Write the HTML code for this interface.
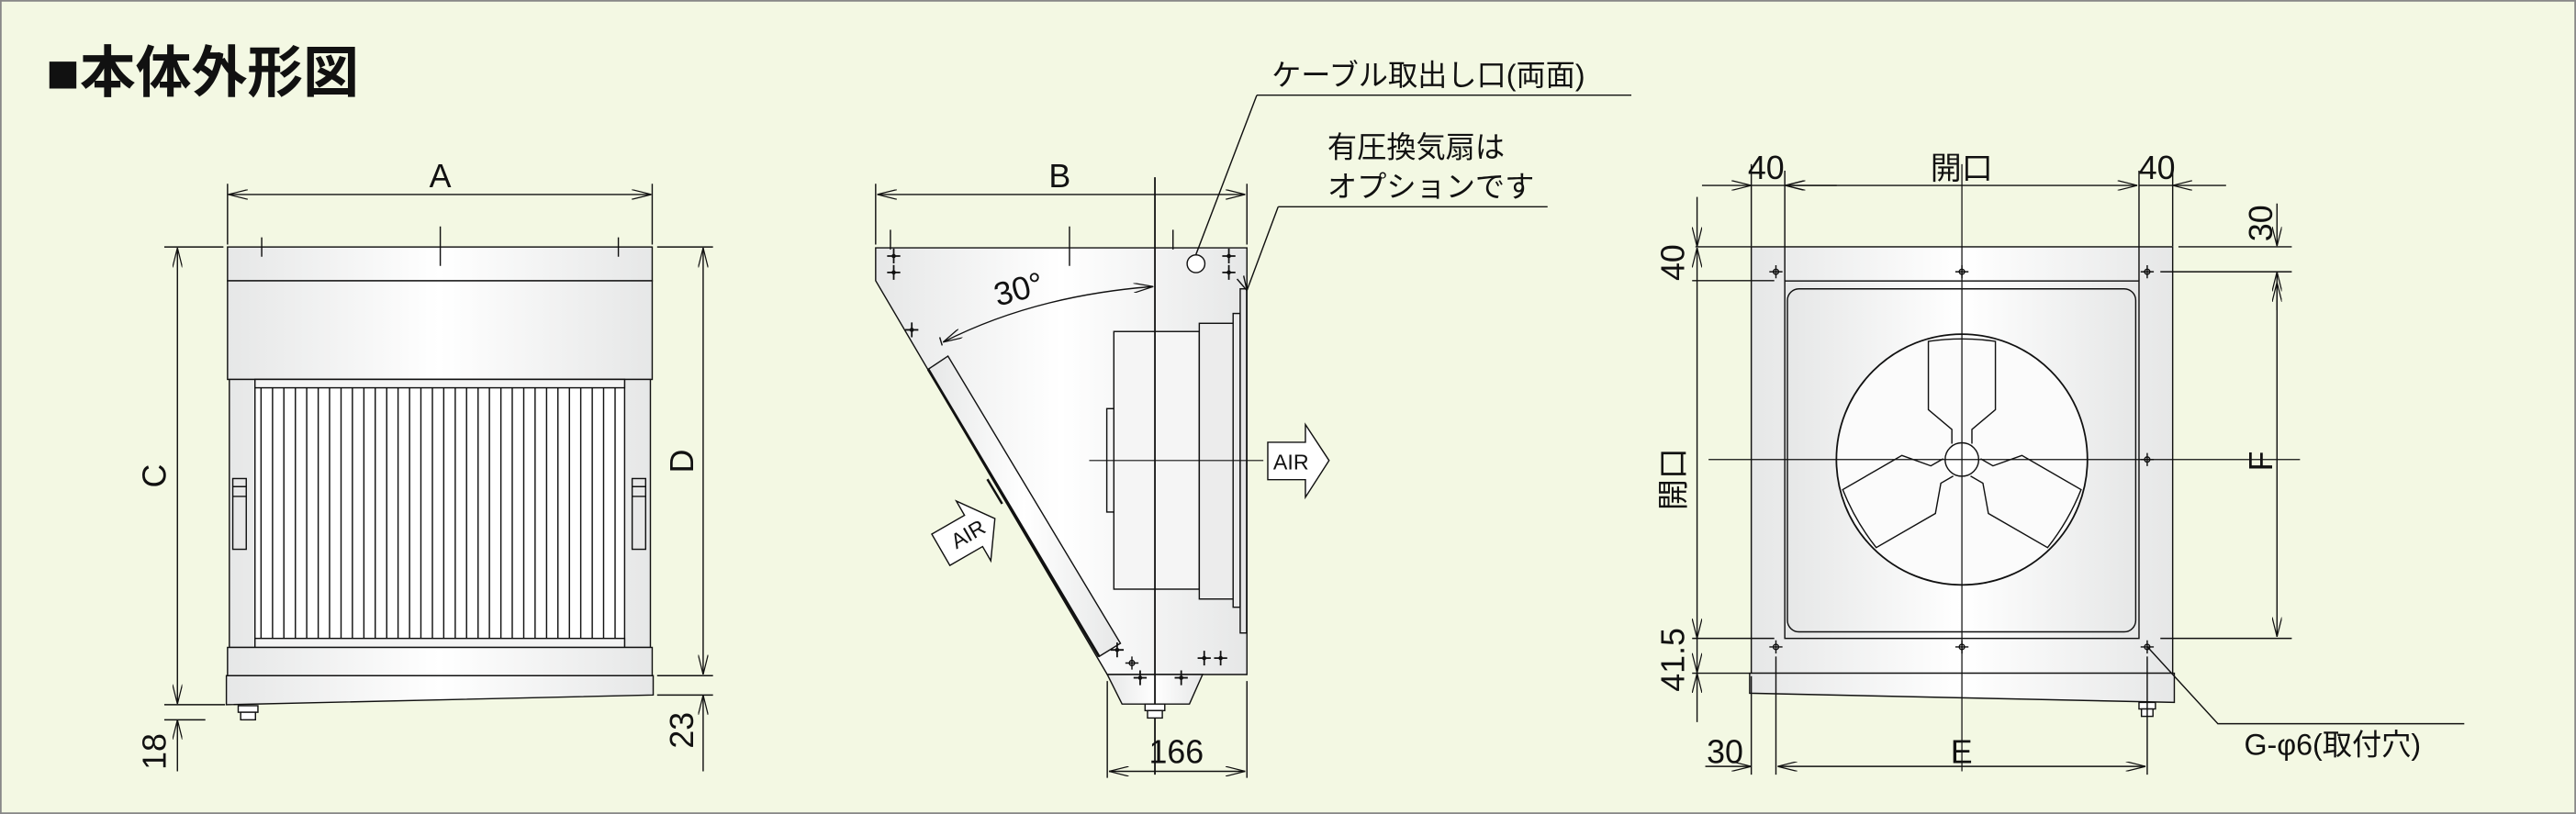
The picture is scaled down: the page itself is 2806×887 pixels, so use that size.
<!DOCTYPE html>
<html><head><meta charset="utf-8"><style>
html,body{margin:0;padding:0;background:#f3f8e3;}
svg{display:block}
text{font-family:"Liberation Sans Narrow","Liberation Sans","Noto Sans CJK JP",sans-serif;fill:#111}
.j{font-family:"Liberation Sans","Noto Sans CJK JP",sans-serif}
</style></head><body>
<svg width="2806" height="887" viewBox="0 0 1568 496" preserveAspectRatio="none" xmlns="http://www.w3.org/2000/svg">
<defs>
<linearGradient id="g" x1="0" x2="1" y1="0" y2="0">
<stop offset="0" stop-color="#e6e7e7"/><stop offset="0.5" stop-color="#ffffff"/><stop offset="1" stop-color="#e6e7e7"/></linearGradient>
<marker id="a" markerWidth="12" markerHeight="6" refX="12" refY="3" orient="auto" markerUnits="userSpaceOnUse">
<path d="M0,0 L12,3 L0,6" fill="none" stroke="#111" stroke-width="0.7"/></marker>
<marker id="b" markerWidth="12" markerHeight="6" refX="0" refY="3" orient="auto" markerUnits="userSpaceOnUse">
<path d="M12,0 L0,3 L12,6" fill="none" stroke="#111" stroke-width="0.7"/></marker>
<g id="h"><circle r="1.6" fill="none" stroke="#111" stroke-width="0.8"/><path d="M-4,0H4M0,-4V4" stroke="#111" stroke-width="0.8"/></g>
<g id="p"><circle r="1.3" fill="#111"/><path d="M-4,0H4M0,-4.5V4.5" stroke="#111" stroke-width="1"/></g>
</defs>
<rect x="0.5" y="0.5" width="1567" height="495" fill="#f3f8e3" stroke="#888" stroke-width="1"/>
<text x="28" y="56" class="j" font-size="34" font-weight="bold">■本体外形図</text>

<g stroke="#111" stroke-width="0.8" fill="none">
<!-- LEFT VIEW -->
<rect x="138.5" y="150.5" width="258.5" height="20.6" fill="url(#g)"/>
<rect x="138.5" y="171.1" width="258.5" height="60.1" fill="url(#g)"/>
<rect x="139.6" y="231.2" width="256.3" height="163.3" fill="url(#g)"/>
<rect x="155.2" y="231.2" width="225" height="163.3" fill="#fff"/>
<rect x="155.2" y="231.2" width="225" height="5.1" fill="#f4f4f4"/>
<rect x="155.2" y="389" width="225" height="5.5" fill="#f4f4f4"/>
<path d="M158.9,236.3V389M165.9,236.3V389M172.8,236.3V389M179.8,236.3V389M186.7,236.3V389M193.7,236.3V389M200.6,236.3V389M207.6,236.3V389M214.5,236.3V389M221.5,236.3V389M228.4,236.3V389M235.4,236.3V389M242.3,236.3V389M249.3,236.3V389M256.2,236.3V389M263.2,236.3V389M270.1,236.3V389M277.1,236.3V389M284,236.3V389M291,236.3V389M297.9,236.3V389M304.9,236.3V389M311.8,236.3V389M318.8,236.3V389M325.7,236.3V389M332.7,236.3V389M339.6,236.3V389M346.6,236.3V389M353.5,236.3V389M360.5,236.3V389M367.4,236.3V389M374.4,236.3V389"/>
<rect x="141.7" y="291.6" width="8.2" height="43.1" fill="#e8e8e8"/><path d="M141.7,296.5H149.9M141.7,302.5H149.9"/>
<rect x="384.8" y="291.6" width="8.2" height="43.1" fill="#e8e8e8"/><path d="M384.8,296.5H393M384.8,302.5H393"/>
<rect x="138.5" y="394.5" width="258.5" height="17.2" fill="url(#g)"/>
<path d="M137.8,411.7H397.6V423.5L137.8,429.4Z" fill="url(#g)"/>
<rect x="145" y="430" width="12" height="4" fill="#fff"/><rect x="146.5" y="434" width="9" height="4.6" fill="#fff"/>
<path d="M159.3,144.6V156.4M268,138V162M376.4,144.6V156.4" />
<path d="M138.5,112V149M397,112V149"/>
<path d="M139,118.5H396.5" marker-start="url(#b)" marker-end="url(#a)"/>
<path d="M100,150.5H136M100,429.4H137M100,438.6H125"/>
<path d="M108,151V429" marker-start="url(#b)" marker-end="url(#a)"/>
<path d="M108,470V438.6" marker-end="url(#a)"/>
<path d="M400,150.5H434M400,411.7H434M400,423.5H434"/>
<path d="M428,151V411" marker-start="url(#b)" marker-end="url(#a)"/>
<path d="M428,470V423.5" marker-end="url(#a)"/>

<!-- MIDDLE VIEW -->
<path d="M533,151H759V411H674L533,171Z" fill="url(#g)"/>
<path d="M674,411H732L724,429H683Z" fill="url(#g)"/>
<path d="M577,217L565,225L669,400L682,392Z" fill="url(#g)"/>
<path d="M565,225L669,400" stroke-width="1.6"/>
<path d="M601,292l3,5l6,10" stroke-width="1.4"/>
<rect x="678" y="202" width="52" height="157" fill="#f5f5f5"/>
<rect x="673.7" y="249" width="4.3" height="63" fill="#f5f5f5"/>
<rect x="730" y="197" width="20.6" height="168" fill="#ececec"/>
<rect x="750.6" y="191" width="4.3" height="179" fill="#eaeaea"/>
<rect x="754.9" y="176" width="3.9" height="209.7" fill="#e6e6e6"/>
<circle cx="728" cy="160.7" r="5.4" fill="#fff"/>
<path d="M703,108V472" stroke-width="1"/>
<path d="M663,280.6H769" stroke-width="0.6"/>
<path d="M574,208.5Q630,180 702,174.6" marker-start="url(#b)" marker-end="url(#a)"/>
<path d="M572,205.5l1.5,5"/>
<path d="M771.7,269.5H794.6V258.7L809,280.6L794.6,303V292.3H771.7Z" fill="#fff"/>
<g transform="translate(590,325) rotate(-30)"><path d="M-20,-11H3V-21L18,0L3,21V11H-20Z" fill="#fff"/></g>
<rect x="697" y="429" width="12" height="4" fill="#fff"/><rect x="698.5" y="433" width="9" height="4.5" fill="#fff"/>
<path d="M533,112V149M759,112V149M651,138V162M542,140V152M714,140V152"/>
<path d="M534,118.5H758" marker-start="url(#b)" marker-end="url(#a)"/>
<path d="M674,415V474M759,415V474"/>
<path d="M675,470H758" marker-start="url(#b)" marker-end="url(#a)"/>
<path d="M765,58H993M765,58L728,155" />
<path d="M778,126H942M778,126L759,177"/>
<path d="M753,170L759,177L757,168"/>

<!-- RIGHT VIEW -->
<rect x="1066" y="150.4" width="256.5" height="259.8" fill="url(#g)"/>
<path d="M1065,410.2H1323.5V428L1065,422.4Z" fill="url(#g)"/>
<rect x="1086.4" y="171.2" width="215.6" height="217.8" fill="url(#g)"/>
<rect x="1088" y="176" width="212" height="209" rx="7" fill="url(#g)"/>
<circle cx="1194.2" cy="280" r="76.4" fill="#fbfbfb" stroke-width="1"/>
<g transform="translate(1194.2,280)" fill="none" stroke-width="0.8">
<path id="bl" d="M-6.1,-9.6V-18.3L-20.4,-30.4V-72Q0,-75 20.4,-72V-30.4L6.1,-18.3V-9.6"/>
<use href="#bl" transform="rotate(120)"/><use href="#bl" transform="rotate(240)"/>
<circle r="10.2" fill="#fff"/>
</g>
<path d="M1194.2,100V470M1040,280H1400" stroke-width="0.7"/>
<g><use href="#h" x="1081" y="165.6"/><use href="#h" x="1307" y="165.6"/><use href="#h" x="1194.2" y="165.6"/><use href="#h" x="1081" y="394.2"/><use href="#h" x="1307" y="394.2"/><use href="#h" x="1194.2" y="394.2"/><use href="#h" x="1307" y="280"/></g>
<rect x="1302" y="428" width="10" height="4" fill="#fff"/><rect x="1303.5" y="432" width="7" height="4.5" fill="#fff"/>
<path d="M1066,100V150M1086.4,104V171M1302,104V171M1322.5,100V150"/>
<path d="M1036,113H1066" marker-end="url(#a)"/><path d="M1066,113H1086.4"/>
<path d="M1118,113H1086.4" marker-end="url(#a)"/>
<path d="M1087,113H1301" marker-start="url(#b)" marker-end="url(#a)"/>
<path d="M1302,113H1322.5M1355,113H1322.5" marker-end="url(#a)"/>
<path d="M1032,150.4H1066M1030,171H1080M1030,389H1080M1030,410.2H1066M1326,150.4H1395M1315,165.6H1395M1315,389H1395"/>
<path d="M1386,124V150" marker-end="url(#a)"/><path d="M1386,189V165.6" marker-end="url(#a)"/>
<path d="M1386,172V388" marker-start="url(#b)" marker-end="url(#a)"/>
<path d="M1033,120V150.4" marker-end="url(#a)"/>
<path d="M1033,151V389" marker-start="url(#b)" marker-end="url(#a)"/>
<path d="M1033,389V410" marker-end="url(#a)"/>
<path d="M1033,440V410.2" marker-end="url(#a)"/>
<path d="M1066,412V472M1081,400V472M1307,400V472"/>
<path d="M1038,467H1066" marker-end="url(#a)"/>
<path d="M1082,467H1306" marker-start="url(#b)" marker-end="url(#a)"/>
<path d="M1307,394L1350,441H1500"/>
</g>
<g>
<use href="#p" x="544" y="156"/><use href="#p" x="544" y="166"/>
<use href="#p" x="748" y="156"/><use href="#p" x="748" y="166"/>
<use href="#p" x="555" y="201"/><use href="#p" x="680" y="396"/>
<use href="#p" x="733" y="401"/><use href="#p" x="743" y="401"/>
<use href="#p" x="694" y="413"/><use href="#p" x="719" y="413"/>
<use href="#h" x="689" y="404"/>
</g>

<g font-size="20">
<text x="268" y="114" text-anchor="middle">A</text>
<text x="645" y="114" text-anchor="middle">B</text>
<text transform="translate(101,290) rotate(-90)" text-anchor="middle">C</text>
<text transform="translate(422,281) rotate(-90)" text-anchor="middle">D</text>
<text transform="translate(101,458) rotate(-90)" text-anchor="middle">18</text>
<text transform="translate(422,445) rotate(-90)" text-anchor="middle">23</text>
<text x="716" y="465" text-anchor="middle">166</text>
<text x="620" y="183" text-anchor="middle" transform="rotate(-15 620 176)">30°</text>
<text x="1075" y="109" text-anchor="middle">40</text>
<text x="1313" y="109" text-anchor="middle">40</text>
<text x="1194" y="109" text-anchor="middle" class="j" font-size="19">開口</text>
<text transform="translate(1383,136) rotate(-90)" text-anchor="middle">30</text>
<text transform="translate(1025,160) rotate(-90)" text-anchor="middle">40</text>
<text transform="translate(1025,292) rotate(-90)" text-anchor="middle" class="j" font-size="19">開口</text>
<text transform="translate(1025,402) rotate(-90)" text-anchor="middle">41.5</text>
<text transform="translate(1383,281) rotate(-90)" text-anchor="middle">F</text>
<text x="1050" y="465" text-anchor="middle">30</text>
<text x="1194" y="465" text-anchor="middle">E</text>
<text x="1366" y="460" class="j" font-size="18">G-φ6(取付穴)</text>
<text x="774" y="52" class="j" font-size="18">ケーブル取出し口(両面)</text>
<text x="808" y="96" class="j" font-size="18">有圧換気扇は</text>
<text x="808" y="120" class="j" font-size="18">オプションです</text>
</g>
<g font-size="13">
<text x="775" y="286">AIR</text>
<text x="0" y="0" transform="translate(589,325) rotate(-30)" text-anchor="middle" dy="5">AIR</text>
</g>
</svg>
</body></html>
